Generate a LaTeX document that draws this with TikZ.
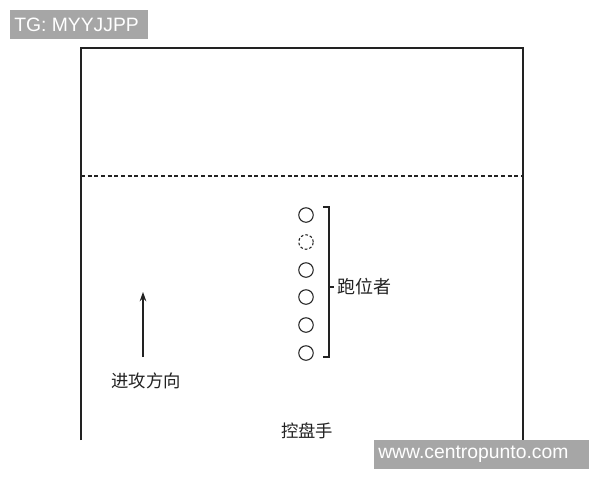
\documentclass[tikz,border=0pt]{standalone}
\usepackage{fontspec}
\setmainfont{Liberation Sans}
\newfontfamily\cjk{Noto Sans CJK SC}
\usetikzlibrary{arrows.meta}
\definecolor{wmgray}{HTML}{A6A6A6}
\definecolor{ink}{HTML}{222222}
\begin{document}
\begin{tikzpicture}[x=0.75pt,y=-0.75pt,
  line/.style={draw=ink,line width=0.9pt},
  player/.style={circle,draw=ink,line width=0.8pt,minimum size=14.5*0.75pt,inner sep=0pt},
  ghost/.style={player,dashed,dash pattern=on 2pt off 1.5pt},
  label/.style={font=\cjk\fontsize{13}{15}\selectfont,text=ink,inner sep=0pt},
  wmbox/.style={fill=wmgray,inner sep=0pt},
  wmtext/.style={text=white,inner sep=0pt,font=\fontsize{14.5}{16}\selectfont}]
\useasboundingbox (0,0) rectangle (600,480);
\fill[white] (0,0) rectangle (600,480);
% court
\coordinate (bl) at (81,440);
\coordinate (tl) at (81,48);
\coordinate (tr) at (523,48);
\coordinate (br) at (523,440);
\draw[line] (bl) -- (tl) -- (tr) -- (br);
\coordinate (dl) at (81,176);
\coordinate (dr) at (523,176);
\draw[draw=ink,line width=0.8pt,dash pattern=on 3pt off 2pt] (dl) -- (dr);
% players
\node[player] (p1) at (306,215) {};
\node[ghost]  (p2) at (306,242) {};
\node[player] (p3) at (306,270) {};
\node[player] (p4) at (306,297) {};
\node[player] (p5) at (306,325) {};
\node[player] (p6) at (306,353) {};
% bracket
\coordinate (bt) at (329,207);
\coordinate (bb) at (329,357);
\coordinate (bm) at (329,287);
\coordinate (btl) at (323,207);
\coordinate (bbl) at (323,357);
\coordinate (bmr) at (334,287);
\draw[line] (btl) -- (bt) -- (bb) -- (bbl);
\draw[line] (bm) -- (bmr);
\node[label,anchor=west,font=\cjk\fontsize{13.5}{15}\selectfont] (runner) at (337,287) {跑位者};
% arrow
\coordinate (as) at (143,357);
\coordinate (ae) at (143,292);
\draw[line,-{Stealth[length=7pt,width=5pt]}] (as) -- (ae);
\node[label] (dir) at (146,381) {进攻方向};
\node[label] (pg) at (307,431) {控盘手};
% watermarks
\fill[wmgray] (10,10) rectangle (148,39);
\node[wmtext,anchor=west] (tg) at (14,24.5) {TG: MYYJJPP};
\fill[wmgray] (374,440) rectangle (589,469);
\node[wmtext,anchor=west] (www) at (378,454.5) {www.centropunto.com};
\end{tikzpicture}
\end{document}
